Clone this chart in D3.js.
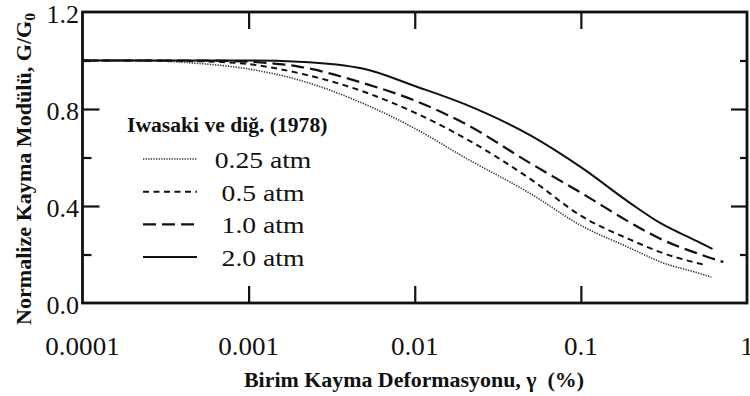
<!DOCTYPE html>
<html>
<head>
<meta charset="utf-8">
<script src="https://cdn.jsdelivr.net/npm/d3@7"></script>
<style>
  body { margin: 0; background: #fff; }
  svg { display: block; }
  text { font-family: "Liberation Serif", "Times New Roman", serif; fill: #111; }
</style>
</head>
<body>
<svg id="chart" width="750" height="396"></svg>
<script>
// Shear strain (%) at which each modulus curve is sampled
const strainPct = [0.0001, 0.0002, 0.0005, 0.001, 0.002, 0.005, 0.01, 0.02, 0.05, 0.1, 0.2, 0.3, 0.5];

// Normalized shear modulus G/G0 for each confining pressure
const g025 = [1.0, 1.0, 0.988, 0.965, 0.92, 0.82, 0.72, 0.60, 0.45, 0.32, 0.225, 0.17, 0.125];
const g050 = [1.0, 1.0, 0.997, 0.985, 0.948, 0.87, 0.785, 0.68, 0.51, 0.36, 0.26, 0.21, 0.165];
const g100 = [1.0, 1.0, 1.0, 0.995, 0.975, 0.905, 0.835, 0.74, 0.575, 0.455, 0.33, 0.265, 0.205];
const g200 = [1.0, 1.0, 1.0, 1.0, 0.995, 0.965, 0.895, 0.82, 0.69, 0.56, 0.41, 0.33, 0.255];

// Last measured point of each curve
const endStrain = [0.61, 0.56, 0.72, 0.62];
const endG = [0.107, 0.157, 0.169, 0.223];

const seriesLabels = ["0.25 atm", "0.5 atm", "1.0 atm", "2.0 atm"];
const legendTitle = "Iwasaki ve diğ. (1978)";

const xTickValues = [0.0001, 0.001, 0.01, 0.1, 1];
const xTickLabels = ["0.0001", "0.001", "0.01", "0.1", "1"];
const yTickValues = [0.0, 0.4, 0.8, 1.2];
const yTickLabels = ["0.0", "0.4", "0.8", "1.2"];
const yMinorValues = [0.2, 0.6, 1.0];

const xTitle = "Birim Kayma Deformasyonu, γ  (%)";
const yTitle = "Normalize Kayma Modülü, G/G";
const yTitleSub = "0";

// ---- layout and styles ----
const svg = d3.select("#chart");
const x = d3.scaleLog().domain([1e-4, 1]).range([82.5, 747]);
const y = d3.scaleLinear().domain([0, 1.2]).range([303, 12]);

const styles = [
  { width: 1.6, dash: "1.3,1.3", color: "#333" },
  { width: 2.0, dash: "6,4.5", color: "#111" },
  { width: 2.2, dash: "13,6", color: "#111" },
  { width: 2.0, dash: null, color: "#111" }
];

function stretch(sel, factor) {
  sel.each(function () {
    const w = this.getComputedTextLength();
    d3.select(this).attr("textLength", w * factor).attr("lengthAdjust", "spacingAndGlyphs");
  });
}

// ---- curves ----
const seriesG = [g025, g050, g100, g200];
const series = seriesG.map((vals, i) => {
  const pts = strainPct.map((s, j) => ({ s, g: vals[j] }));
  pts.push({ s: endStrain[i], g: endG[i] });
  return pts;
});

const line = d3.line()
  .x(d => x(d.s))
  .y(d => y(d.g))
  .curve(d3.curveMonotoneX);

svg.append("g").selectAll("path")
  .data(series)
  .join("path")
  .attr("d", line)
  .attr("fill", "none")
  .attr("stroke", (d, i) => styles[i].color)
  .attr("stroke-width", (d, i) => styles[i].width)
  .attr("stroke-dasharray", (d, i) => styles[i].dash);

// ---- axes (inward ticks on all four sides) ----
const majorLen = 17, minorLen = 9;

const axisBottomG = svg.append("g").attr("transform", `translate(0,${y(0)})`)
  .call(d3.axisBottom(x).tickValues(xTickValues.slice(1, -1)).tickSize(-majorLen).tickFormat(""));
const axisTopG = svg.append("g").attr("transform", `translate(0,${y(1.2)})`)
  .call(d3.axisTop(x).tickValues(xTickValues.slice(1, -1)).tickSize(-majorLen).tickFormat(""));
const axisLeftG = svg.append("g").attr("transform", `translate(${x(1e-4)},0)`)
  .call(d3.axisLeft(y).tickValues([0.4, 0.8]).tickSize(-majorLen).tickFormat(""));
const axisLeftMinorG = svg.append("g").attr("transform", `translate(${x(1e-4)},0)`)
  .call(d3.axisLeft(y).tickValues(yMinorValues).tickSize(-minorLen).tickFormat(""));
const axisRightG = svg.append("g").attr("transform", `translate(${x(1)},0)`)
  .call(d3.axisRight(y).tickValues([0.4, 0.8]).tickSize(-majorLen + 1).tickFormat(""));
const axisRightMinorG = svg.append("g").attr("transform", `translate(${x(1)},0)`)
  .call(d3.axisRight(y).tickValues(yMinorValues).tickSize(-7).tickFormat(""));

[axisBottomG, axisTopG, axisLeftG, axisLeftMinorG, axisRightG, axisRightMinorG].forEach(g => {
  g.select(".domain").remove();
  g.selectAll(".tick line").attr("stroke", "#111").attr("stroke-width", 2.2);
});

// plot frame
svg.append("rect")
  .attr("x", x(1e-4)).attr("y", y(1.2))
  .attr("width", x(1) - x(1e-4)).attr("height", y(0) - y(1.2))
  .attr("fill", "none").attr("stroke", "#111").attr("stroke-width", 2.8);

// tick labels
svg.append("g").selectAll("text")
  .data(xTickValues)
  .join("text")
  .attr("x", d => x(d))
  .attr("y", 355)
  .attr("text-anchor", "middle")
  .attr("font-size", 26)
  .text((d, i) => xTickLabels[i])
  .call(stretch, 1.04);

svg.append("g").selectAll("text")
  .data(yTickValues)
  .join("text")
  .attr("x", 79)
  .attr("y", d => y(d) + 11)
  .attr("text-anchor", "end")
  .attr("font-size", 26)
  .text((d, i) => yTickLabels[i])
  .call(stretch, 1.0);

// axis titles
svg.append("text")
  .attr("x", 414)
  .attr("y", 387)
  .attr("text-anchor", "middle")
  .attr("font-size", 21)
  .attr("font-weight", "bold")
  .attr("xml:space", "preserve")
  .attr("textLength", 340)
  .attr("lengthAdjust", "spacingAndGlyphs")
  .text(xTitle);

const yt = svg.append("text")
  .attr("transform", "translate(31,169) rotate(-90)")
  .attr("text-anchor", "middle")
  .attr("font-size", 20)
  .attr("font-weight", "bold");
yt.append("tspan").text(yTitle);
yt.append("tspan").attr("font-size", 14).attr("dy", 4).text(yTitleSub);
yt.attr("textLength", 312).attr("lengthAdjust", "spacingAndGlyphs");

// ---- legend ----
svg.append("text")
  .attr("x", 127)
  .attr("y", 132)
  .attr("font-size", 20)
  .attr("font-weight", "bold")
  .text(legendTitle)
  .call(stretch, 1.08);

const legendRows = svg.append("g").selectAll("g")
  .data(seriesLabels)
  .join("g")
  .attr("transform", (d, i) => `translate(0,${159 + i * 32.7})`);

legendRows.append("line")
  .attr("x1", 143).attr("x2", 197)
  .attr("stroke", (d, i) => styles[i].color)
  .attr("stroke-width", (d, i) => styles[i].width)
  .attr("stroke-dasharray", (d, i) => styles[i].dash);

legendRows.append("text")
  .attr("x", 263)
  .attr("y", 9)
  .attr("text-anchor", "middle")
  .attr("font-size", 23)
  .text(d => d)
  .call(stretch, 1.2);
</script>
</body>
</html>
